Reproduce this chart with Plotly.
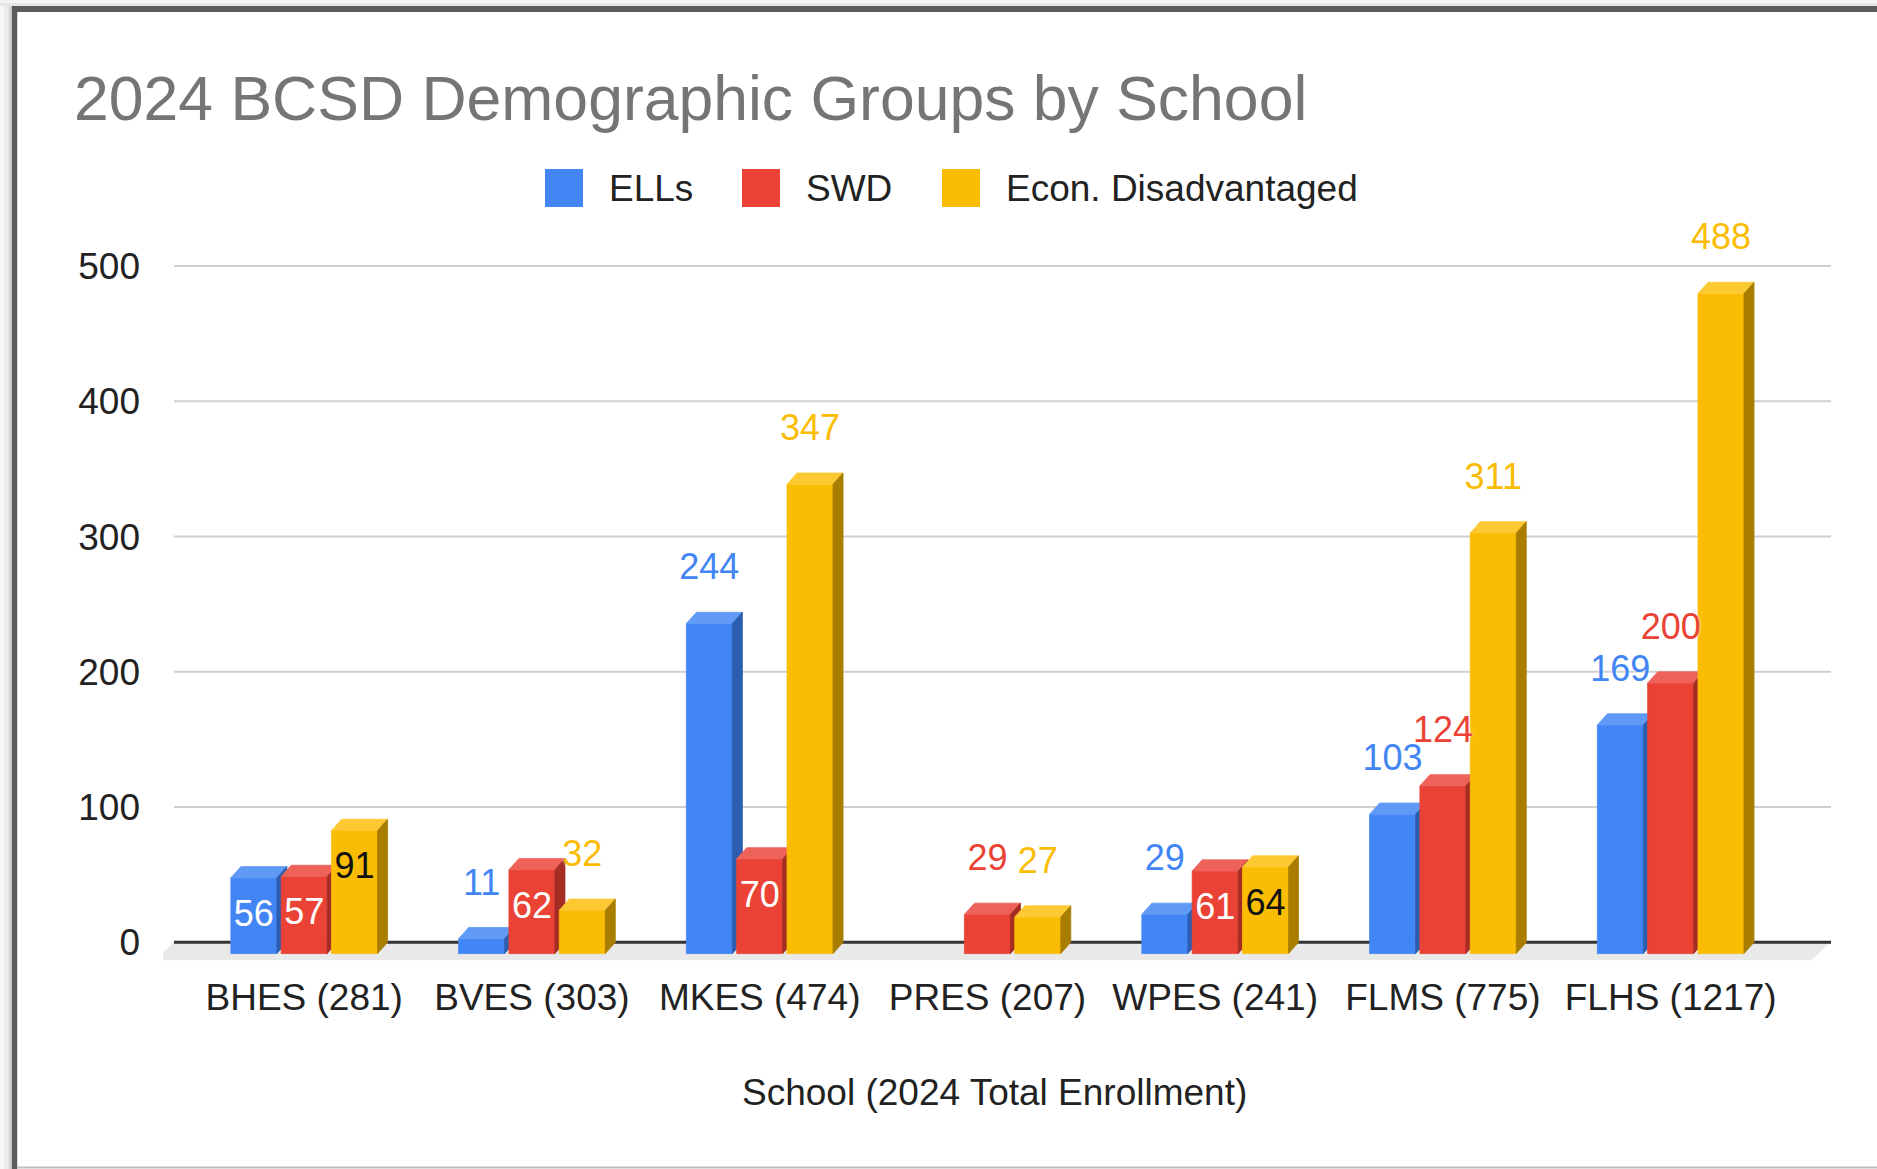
import plotly.graph_objects as go

# ---------------- data ----------------
schools = ["BHES (281)", "BVES (303)", "MKES (474)", "PRES (207)",
           "WPES (241)", "FLMS (775)", "FLHS (1217)"]
series_names = ["ELLs", "SWD", "Econ. Disadvantaged"]
ells = [56, 11, 244, None, 29, 103, 169]
swd = [57, 62, 70, 29, 61, 124, 200]
econ = [91, 32, 347, 27, 64, 311, 488]
y_ticks = [0, 100, 200, 300, 400, 500]

# label placement (True = inside the bar, False = above it)
ells_inside = [True, False, False, False, False, False, False]
swd_inside = [True, True, True, False, True, False, False]
econ_inside = [True, False, False, False, True, False, False]

# ---------------- style ----------------
FONT = "Liberation Sans, Arial, sans-serif"
front_cols = ["#4285F4", "#EA4335", "#FBBC04"]
top_cols = ["#6199F6", "#EE625A", "#FCC933"]
side_cols = ["#2C5DAF", "#A52D24", "#A97E00"]
inside_text_cols = ["#FFFFFF", "#FFFFFF", "#111111"]

W, H = 1877, 1169
L, R, T, B = 163, 46, 239, 205
PW, PH = W - L - R, H - T - B
X_RANGE = [-0.62, 6.704]
Y_RANGE = [-16, 520]
GRID_X0, GRID_X1 = -0.572, 6.704
BAR_W, BAR_PITCH = 0.202, 0.221
DX, DY = 0.044, 8.3
FLOOR_DEPTH, FLOOR_DX = 13.3, 0.088
LABEL_OFF_OUT = 31
LABEL_OFF_IN = 37


def px(x):
    return (x - L) / PW


def py(y):
    return (H - B - y) / PH


fig = go.Figure()

# floor
fig.add_trace(go.Scatter(
    x=[GRID_X0, GRID_X1, GRID_X1 - FLOOR_DX, GRID_X0 - FLOOR_DX, GRID_X0],
    y=[0, 0, -FLOOR_DEPTH, -FLOOR_DEPTH, 0],
    mode="lines", fill="toself", fillcolor="#E9E9E9",
    line=dict(width=0, color="#E9E9E9"), hoverinfo="skip", showlegend=False))
# axis baseline
fig.add_trace(go.Scatter(
    x=[GRID_X0, GRID_X1], y=[0, 0], mode="lines",
    line=dict(color="#333333", width=3), hoverinfo="skip", showlegend=False))

all_series = [ells, swd, econ]
all_inside = [ells_inside, swd_inside, econ_inside]
labels = []

for j, vals in enumerate(all_series):
    off = (j - 1) * BAR_PITCH
    fx, fy, tx, ty, sx, sy = [], [], [], [], [], []
    lab_in = dict(x=[], y=[], t=[])
    lab_out = dict(x=[], y=[], t=[])
    for i, v in enumerate(vals):
        if v is None:
            continue
        x0 = i + off - BAR_W / 2
        x1 = x0 + BAR_W
        fx += [x0, x0, x1, x1, x0, None]
        fy += [-DY, v - DY, v - DY, -DY, -DY, None]
        tx += [x0, x0 + DX, x1 + DX, x1, x0, None]
        ty += [v - DY, v, v, v - DY, v - DY, None]
        sx += [x1, x1, x1 + DX, x1 + DX, x1, None]
        sy += [-DY, v - DY, v, 0, -DY, None]
        inside = all_inside[j][i]
        target = lab_in if inside else lab_out
        target["x"].append(i + off)
        target["y"].append(v - LABEL_OFF_IN if inside else v + LABEL_OFF_OUT)
        target["t"].append(str(v))
    for xs, ys, col in [(fx, fy, front_cols[j]), (tx, ty, top_cols[j]),
                        (sx, sy, side_cols[j])]:
        fig.add_trace(go.Scatter(
            x=xs, y=ys, mode="lines", fill="toself", fillcolor=col,
            line=dict(width=0.8, color=col), hoverinfo="skip",
            showlegend=False, name=series_names[j]))
    labels.append((lab_in, lab_out))

for j in range(3):
    lab_in, lab_out = labels[j]
    fig.add_trace(go.Scatter(
        x=lab_in["x"], y=lab_in["y"], text=lab_in["t"], mode="text",
        textposition="middle center", cliponaxis=False,
        textfont=dict(family=FONT, size=36, color=inside_text_cols[j]),
        hoverinfo="skip", showlegend=False))
    fig.add_trace(go.Scatter(
        x=lab_out["x"], y=lab_out["y"], text=lab_out["t"], mode="text",
        textposition="middle center", cliponaxis=False,
        textfont=dict(family=FONT, size=36, color=front_cols[j],
                      shadow="0px 0px 3px #ffffff"),
        hoverinfo="skip", showlegend=False))

shapes = []
# gridlines
for yv in y_ticks[1:]:
    shapes.append(dict(type="line", xref="x", yref="y", x0=GRID_X0, x1=GRID_X1,
                       y0=yv, y1=yv, line=dict(color="#CFCFCF", width=2),
                       layer="below"))
# soft shadow outside the frame
for pos, wdt, col in [(2, 4, "#F7F7F7"), (6, 4, "#EBEBEB"), (10, 3, "#D4D4D4")]:
    shapes.append(dict(type="line", xref="paper", yref="paper",
                       x0=px(pos), x1=px(pos), y0=py(0), y1=py(H),
                       line=dict(color=col, width=wdt)))
for pos, wdt, col in [(1.5, 3, "#F4F4F4"), (4.5, 3, "#E6E6E6")]:
    shapes.append(dict(type="line", xref="paper", yref="paper",
                       x0=px(0), x1=px(W), y0=py(pos), y1=py(pos),
                       line=dict(color=col, width=wdt)))
# frame
shapes.append(dict(type="line", xref="paper", yref="paper",
                   x0=px(14.5), x1=px(14.5), y0=py(6), y1=py(H),
                   line=dict(color="#5C5C5C", width=5.5)))
shapes.append(dict(type="line", xref="paper", yref="paper",
                   x0=px(12), x1=px(W), y0=py(9), y1=py(9),
                   line=dict(color="#5C5C5C", width=6)))
shapes.append(dict(type="line", xref="paper", yref="paper",
                   x0=px(17), x1=px(W), y0=py(1167.5), y1=py(1167.5),
                   line=dict(color="#BDBDBD", width=2)))

annotations = []
# legend
legend_sq_x = [545, 742, 942]
for j, name in enumerate(series_names):
    x0 = legend_sq_x[j]
    shapes.append(dict(type="rect", xref="paper", yref="paper",
                       x0=px(x0), x1=px(x0 + 38), y0=py(207), y1=py(169),
                       fillcolor=front_cols[j], line=dict(width=0)))
    annotations.append(dict(xref="paper", yref="paper", x=px(x0 + 62), y=py(188),
                            xanchor="left", yanchor="middle", showarrow=False,
                            text=name, font=dict(family=FONT, size=37, color="#222222")))
# x axis title
annotations.append(dict(xref="paper", yref="paper", x=px(994), y=py(1092),
                        xanchor="center", yanchor="middle", showarrow=False,
                        text="School (2024 Total Enrollment)",
                        font=dict(family=FONT, size=37, color="#222222")))

fig.update_layout(
    width=W, height=H,
    margin=dict(l=L, r=R, t=T, b=B, autoexpand=False),
    paper_bgcolor="white", plot_bgcolor="white",
    showlegend=False,
    title=dict(text="2024 BCSD Demographic Groups by School",
               xref="container", yref="container", x=74 / W, y=1 - 98 / H,
               xanchor="left", yanchor="middle",
               font=dict(family=FONT, size=62.5, color="#757575")),
    xaxis=dict(range=X_RANGE, showgrid=False, zeroline=False, showline=False,
               tickmode="array", tickvals=list(range(len(schools))),
               ticktext=schools, ticks="", ticklabelstandoff=8,
               tickfont=dict(family=FONT, size=37, color="#222222"),
               fixedrange=True),
    yaxis=dict(range=Y_RANGE, showgrid=False, zeroline=False, showline=False,
               tickmode="array", tickvals=y_ticks, ticks="",
               ticklabelstandoff=22,
               tickfont=dict(family=FONT, size=37, color="#222222"),
               fixedrange=True),
    shapes=shapes, annotations=annotations,
)

fig.write_html(
    "out.html",
    config={"displayModeBar": False},
    post_script="document.body.style.margin='0';document.body.style.overflow='hidden';",
)
